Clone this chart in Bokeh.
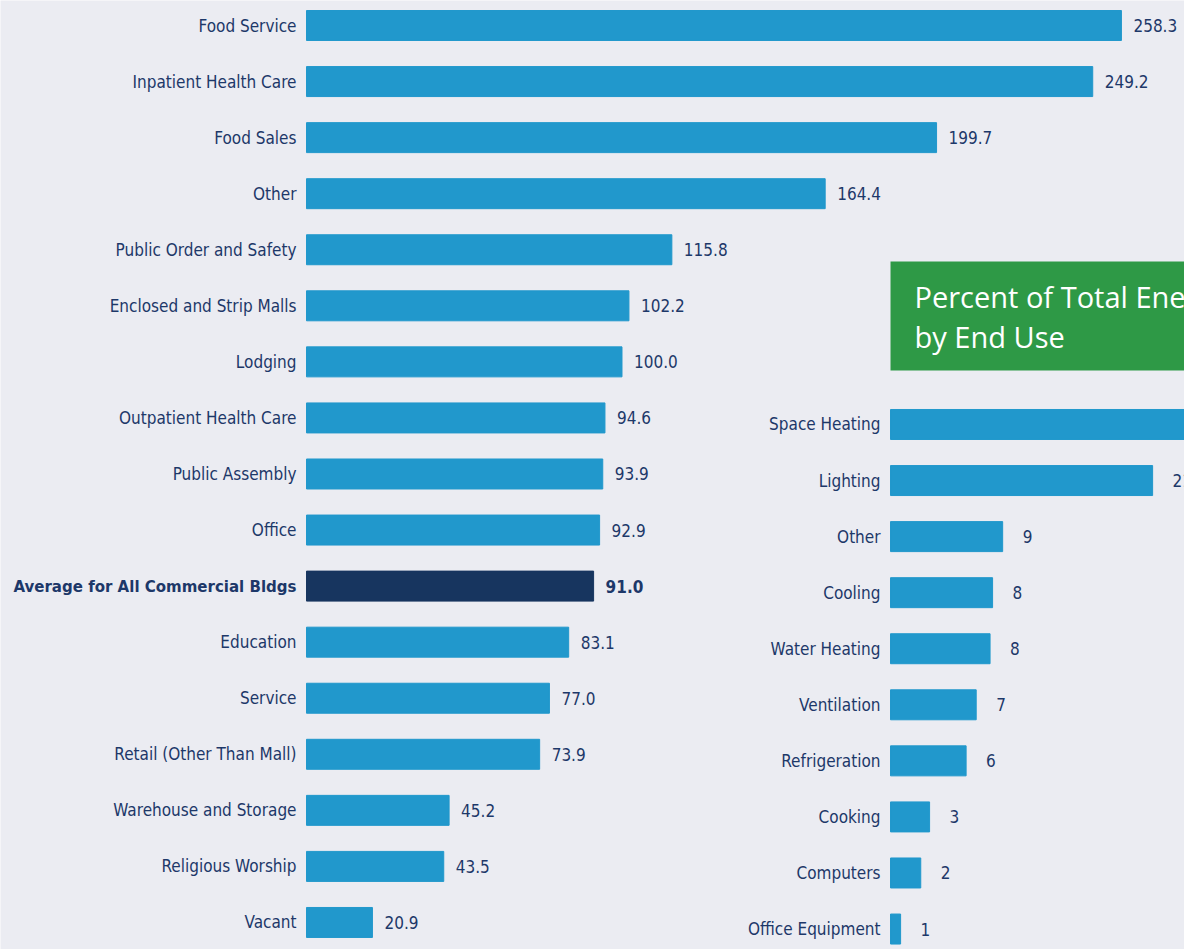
from bokeh.plotting import figure
from bokeh.models import Range1d, ColumnDataSource, BoxAnnotation, Label
from bokeh.core.properties import value
from bokeh.embed import file_html
from bokeh.resources import INLINE

# ---- data: energy intensity by building type ----
building_types = [
    "Food Service", "Inpatient Health Care", "Food Sales", "Other",
    "Public Order and Safety", "Enclosed and Strip Malls", "Lodging",
    "Outpatient Health Care", "Public Assembly", "Office",
    "Average for All Commercial Bldgs", "Education", "Service",
    "Retail (Other Than Mall)", "Warehouse and Storage",
    "Religious Worship", "Vacant",
]
intensity = [258.3, 249.2, 199.7, 164.4, 115.8, 102.2, 100.0, 94.6, 93.9,
             92.9, 91.0, 83.1, 77.0, 73.9, 45.2, 43.5, 20.9]
highlight = "Average for All Commercial Bldgs"

# ---- data: percent of total energy by end use ----
end_uses = ["Space Heating", "Lighting", "Other", "Cooling", "Water Heating",
            "Ventilation", "Refrigeration", "Cooking", "Computers",
            "Office Equipment"]
end_use_pct = [36.0, 20.8, 8.9, 8.1, 7.9, 6.8, 6.0, 3.1, 2.4, 0.8]
panel_title = ["Percent of Total Energy", "by End Use"]

BG = "#ebecf2"
BLUE = "#2198cc"
NAVY = "#17355f"
TEXT = "#1d3869"
GREEN = "#2e9946"
FONT = value("'DejaVu Sans Condensed', 'Liberation Sans Narrow', sans-serif")
TFONT = "'Open Sans', sans-serif"

p = figure(width=1184, height=949, output_backend="svg", toolbar_location=None,
           x_range=Range1d(-96.99, 278.29), y_range=Range1d(16.482, -0.446),
           min_border=0)
p.extra_x_ranges = {"r": Range1d(-70.63, 23.33)}
p.extra_y_ranges = {"r": Range1d(9.365, -7.563)}
p.axis.visible = False
p.grid.visible = False
p.outline_line_color = None
p.background_fill_color = BG
p.border_fill_color = BG

# left chart
left = ColumnDataSource(dict(
    y=list(range(len(building_types))),
    cat=building_types,
    val=intensity,
    lab=[f"{v:.1f}" for v in intensity],
    color=[NAVY if c == highlight else BLUE for c in building_types],
    style=["bold" if c == highlight else "normal" for c in building_types],
    size=["16.7px" if c == highlight else "17px" for c in building_types],
))
p.hbar(y="y", left=0, right="val", height=0.535, color="color", source=left)
p.text(x=0, y="y", text="cat", source=left, x_offset=-10, text_align="right",
       text_baseline="middle", text_font=FONT, text_font_size="size",
       text_color=TEXT, text_font_style="style")
p.text(x="val", y="y", text="lab", source=left, x_offset=12, text_align="left",
       text_baseline="middle", text_font=FONT, text_font_size="17px",
       text_color=TEXT, text_font_style="style")

# right chart
right = ColumnDataSource(dict(
    y=list(range(len(end_uses))),
    cat=end_uses,
    val=end_use_pct,
    lab=[f"{v:.0f}" for v in end_use_pct],
))
p.hbar(y="y", left=0, right="val", height=0.535, color=BLUE, source=right,
       x_range_name="r", y_range_name="r")
p.text(x=0, y="y", text="cat", source=right, x_offset=-10, text_align="right",
       text_baseline="middle", text_font=FONT, text_font_size="17px",
       text_color=TEXT, x_range_name="r", y_range_name="r")
p.text(x="val", y="y", text="lab", source=right, x_offset=20, text_align="left",
       text_baseline="middle", text_font=FONT, text_font_size="17px",
       text_color=TEXT, x_range_name="r", y_range_name="r")

# green title box
p.add_layout(BoxAnnotation(left=0, top=-2.907, bottom=-0.963, fill_color=GREEN,
                           fill_alpha=1, line_color=None,
                           x_range_name="r", y_range_name="r"))
for i, line in enumerate(panel_title):
    p.add_layout(Label(x=0, y=-2.283 + 0.714 * i, text=line, x_offset=24,
                       x_range_name="r", y_range_name="r",
                       text_font=TFONT, text_font_size="29px",
                       text_color="white", text_baseline="middle"))

open("out.html", "w").write(file_html(p, INLINE))
